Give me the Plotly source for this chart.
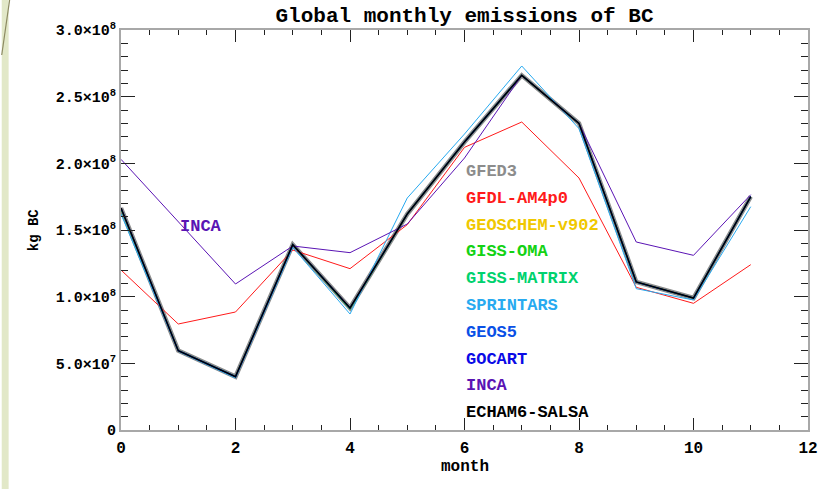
import plotly.graph_objects as go

# Monthly BC emissions (kg BC), month index 0..11
months = list(range(12))

gfed3 = [1.665e8, 5.95e7, 4.0e7, 1.39e8, 9.15e7, 1.62e8, 2.16e8, 2.66e8, 2.30e8, 1.11e8, 9.9e7, 1.75e8]
gfdl_am4p0 = [1.20e8, 7.95e7, 8.85e7, 1.35e8, 1.21e8, 1.54e8, 2.12e8, 2.31e8, 1.89e8, 1.07e8, 9.5e7, 1.24e8]
geoschem_v902 = [1.665e8, 5.95e7, 4.0e7, 1.39e8, 9.15e7, 1.62e8, 2.16e8, 2.66e8, 2.30e8, 1.11e8, 9.9e7, 1.75e8]
giss_oma = [1.66e8, 5.95e7, 4.0e7, 1.39e8, 9.1e7, 1.62e8, 2.16e8, 2.66e8, 2.30e8, 1.11e8, 9.9e7, 1.75e8]
giss_matrix = [1.66e8, 5.95e7, 4.0e7, 1.39e8, 9.1e7, 1.62e8, 2.16e8, 2.66e8, 2.30e8, 1.11e8, 9.9e7, 1.75e8]
sprintars = [1.62e8, 5.9e7, 3.9e7, 1.37e8, 8.7e7, 1.74e8, 2.22e8, 2.73e8, 2.26e8, 1.06e8, 9.75e7, 1.675e8]
geos5 = [1.665e8, 5.95e7, 4.0e7, 1.39e8, 9.15e7, 1.62e8, 2.16e8, 2.66e8, 2.30e8, 1.11e8, 9.9e7, 1.75e8]
gocart = [1.665e8, 5.95e7, 4.0e7, 1.39e8, 9.15e7, 1.62e8, 2.16e8, 2.66e8, 2.30e8, 1.11e8, 9.9e7, 1.75e8]
inca = [2.03e8, 1.56e8, 1.095e8, 1.38e8, 1.33e8, 1.545e8, 2.04e8, 2.66e8, 2.30e8, 1.41e8, 1.31e8, 1.765e8]
echam6_salsa = [1.665e8, 5.95e7, 4.0e7, 1.39e8, 9.15e7, 1.62e8, 2.16e8, 2.66e8, 2.30e8, 1.11e8, 9.9e7, 1.75e8]

model_names = ["GFED3", "GFDL-AM4p0", "GEOSCHEM-v902", "GISS-OMA", "GISS-MATRIX",
               "SPRINTARS", "GEOS5", "GOCART", "INCA", "ECHAM6-SALSA"]
model_values = [gfed3, gfdl_am4p0, geoschem_v902, giss_oma, giss_matrix,
                sprintars, geos5, gocart, inca, echam6_salsa]
model_colors = ["#8c8c8c", "#ff1a1a", "#f0c800", "#14d214", "#00d26e",
                "#28aaf0", "#0a50e6", "#0a0ae6", "#5a14b4", "#000000"]
line_widths = [4.5, 1, 1.2, 1.2, 1.2, 1, 1.2, 1.2, 1, 1.5]

y_tickvals = [0, 5e7, 1e8, 1.5e8, 2e8, 2.5e8, 3e8]
y_ticktext = ["0", "5.0×10<sup>7</sup>", "1.0×10<sup>8</sup>", "1.5×10<sup>8</sup>",
              "2.0×10<sup>8</sup>", "2.5×10<sup>8</sup>", "3.0×10<sup>8</sup>"]

W, H = 825, 489
PL, PR, PT, PB = 121, 818, 30, 430


def xp(px):
    return (px - PL) / (PR - PL)


def yp(py):
    return (PB - py) / (PB - PT)


fig = go.Figure()
for name, vals, col, lw in zip(model_names, model_values, model_colors, line_widths):
    fig.add_trace(go.Scatter(x=months, y=vals, mode="lines", name=name,
                             line=dict(color=col, width=lw), showlegend=False))

mono = "Liberation Mono"

# model key drawn as coloured text inside the plot
for i, (name, col) in enumerate(zip(model_names, model_colors)):
    fig.add_annotation(x=xp(469), y=yp(171.5 + i * 26.8), xref="paper", yref="paper",
                       text=name, showarrow=False, xanchor="left", yanchor="middle",
                       font=dict(family=mono, size=17, color=col, weight="bold"))

fig.add_annotation(x=xp(179), y=yp(226), xref="paper", yref="paper", text="INCA",
                   showarrow=False, xanchor="left", yanchor="middle",
                   font=dict(family=mono, size=17, color="#5a14b4", weight="bold"))

fig.add_annotation(x=xp(33), y=yp(230), xref="paper", yref="paper", text="kg BC",
                   showarrow=False, textangle=-90, xanchor="center", yanchor="middle",
                   font=dict(family=mono, size=14, color="#000", weight="bold"))
fig.add_annotation(x=xp(470), y=yp(467), xref="paper", yref="paper", text="month",
                   showarrow=False, xanchor="center", yanchor="middle",
                   font=dict(family=mono, size=16, color="#000", weight="bold"))

# left page strip with a thin diagonal stroke
fig.add_shape(type="rect", xref="paper", yref="paper", x0=xp(0), x1=xp(7),
              y0=yp(489), y1=yp(0), line=dict(width=0), fillcolor="#e2e8c8", layer="below")
fig.add_shape(type="line", xref="paper", yref="paper", x0=xp(8), y0=yp(0),
              x1=xp(0), y1=yp(55), line=dict(color="#8c8a62", width=1.2))

fig.update_layout(
    width=W, height=H,
    margin=dict(l=PL, r=W - PR, t=PT, b=H - PB),
    paper_bgcolor="white", plot_bgcolor="white",
    title=dict(text="Global monthly emissions of BC", x=0.5, xref="paper",
               y=1 - 15 / H, yref="container", xanchor="center", yanchor="middle",
               font=dict(family=mono, size=21, color="#000", weight="bold")),
    xaxis=dict(range=[0, 12], dtick=2, tick0=0, ticks="inside", ticklen=12,
               tickcolor="#222", tickwidth=1, showgrid=False, zeroline=False,
               showline=True, linecolor="#a8a8a8", linewidth=2, mirror="ticks",
               ticklabeloverflow="allow", ticklabelstandoff=2,
               minor=dict(dtick=0.5, tick0=0, ticks="inside", ticklen=5, tickcolor="#222",
                          showgrid=False),
               tickfont=dict(family=mono, size=16, color="#000", weight="bold")),
    yaxis=dict(range=[0, 3e8], tickmode="array", tickvals=y_tickvals, ticktext=y_ticktext,
               ticks="inside", ticklen=14, tickcolor="#222", tickwidth=1,
               showgrid=False, zeroline=False, showline=True, linecolor="#a8a8a8",
               linewidth=2, mirror="ticks", ticklabelstandoff=0,
               minor=dict(tickmode="linear", tick0=0, dtick=1e7, ticks="inside",
                          ticklen=7, tickcolor="#222", showgrid=False),
               tickfont=dict(family=mono, size=15, color="#000", weight="bold")),
)

fig.write_html("out.html")
